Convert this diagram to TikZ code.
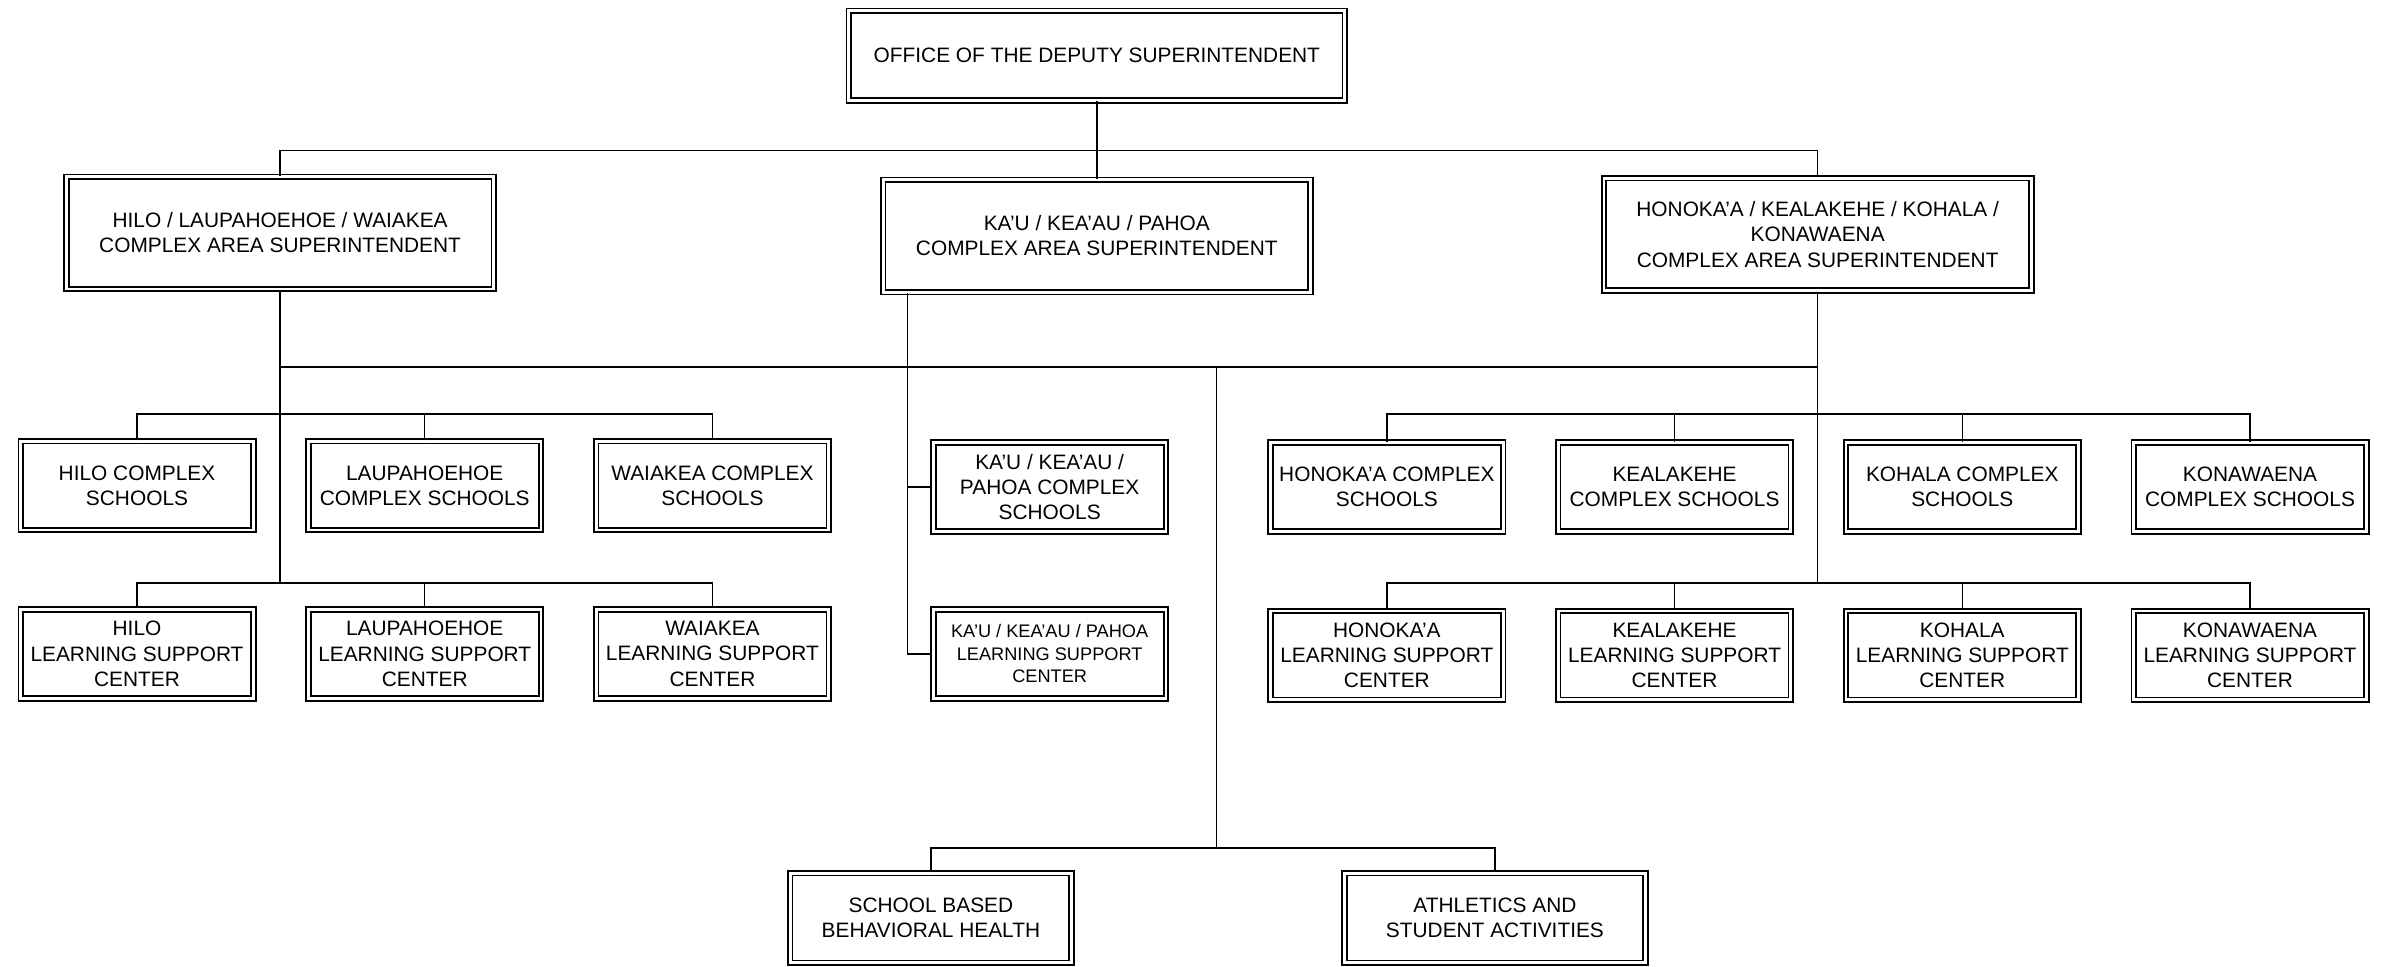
\documentclass[tikz,border=0pt]{standalone}
\usepackage{fontspec}
\setmainfont{Liberation Sans}
\usetikzlibrary{positioning}

\newcommand\orgfont{\fontsize{19.5}{23.5}\selectfont}
\newcommand\orgsmall{\fontsize{17}{21}\selectfont}

\tikzset{
  unit/.style={draw, double, line width=1.7pt, double distance=2.6pt,
    inner sep=2pt, align=center, font=\orgfont},
  topbox/.style={unit, minimum width=16.29cm, minimum height=2.94cm},
  casbox/.style={unit, minimum width=14.04cm, minimum height=3.69cm},
  smallbox/.style={unit, minimum width=7.64cm, minimum height=2.92cm},
  link/.style={line width=1.3pt}
}

\begin{document}
\begin{tikzpicture}[x=0.05cm, y=-0.05cm, line join=miter]
  \useasboundingbox (0,0) rectangle (1568,635);

  % deputy and complex area superintendents
  \node[topbox] (dep) at (720.5,36.5) {OFFICE OF THE DEPUTY SUPERINTENDENT};
  \node[casbox] (hilo) at (184,153) {HILO / LAUPAHOEHOE / WAIAKEA\\COMPLEX AREA SUPERINTENDENT};
  \node[casbox] (kau) at (720.5,155) {KA'U / KEA'AU / PAHOA\\COMPLEX AREA SUPERINTENDENT};
  \node[casbox] (hon) at (1194,154) {HONOKA'A / KEALAKEHE / KOHALA /\\KONAWAENA\\COMPLEX AREA SUPERINTENDENT};

  % complex schools
  \node[smallbox] (hilosch) at (90,319) {HILO COMPLEX\\SCHOOLS};
  \node[smallbox] (lausch) at (279,319) {LAUPAHOEHOE\\COMPLEX SCHOOLS};
  \node[smallbox] (waisch) at (468,319) {WAIAKEA COMPLEX\\SCHOOLS};
  \node[smallbox] (kausch) at (689.5,320) {KA'U / KEA'AU /\\PAHOA COMPLEX\\SCHOOLS};
  \node[smallbox] (honsch) at (911,320) {HONOKA'A COMPLEX\\SCHOOLS};
  \node[smallbox] (kealsch) at (1100,320) {KEALAKEHE\\COMPLEX SCHOOLS};
  \node[smallbox] (kohsch) at (1289,320) {KOHALA COMPLEX\\SCHOOLS};
  \node[smallbox] (konsch) at (1478,320) {KONAWAENA\\COMPLEX SCHOOLS};

  % learning support centers
  \node[smallbox] (hilolsc) at (90,429.5) {HILO\\LEARNING SUPPORT\\CENTER};
  \node[smallbox] (laulsc) at (279,429.5) {LAUPAHOEHOE\\LEARNING SUPPORT\\CENTER};
  \node[smallbox] (wailsc) at (468,429.5) {WAIAKEA\\LEARNING SUPPORT\\CENTER};
  \node[smallbox, font=\orgsmall] (kaulsc) at (689.5,429.5) {KA'U / KEA'AU / PAHOA\\LEARNING SUPPORT\\CENTER};
  \node[smallbox] (honlsc) at (911,430.5) {HONOKA'A\\LEARNING SUPPORT\\CENTER};
  \node[smallbox] (keallsc) at (1100,430.5) {KEALAKEHE\\LEARNING SUPPORT\\CENTER};
  \node[smallbox] (kohlsc) at (1289,430.5) {KOHALA\\LEARNING SUPPORT\\CENTER};
  \node[smallbox] (konlsc) at (1478,430.5) {KONAWAENA\\LEARNING SUPPORT\\CENTER};

  % bottom row
  \node[unit, minimum width=9.24cm, minimum height=2.94cm] (sbbh) at (611.5,603) {SCHOOL BASED\\BEHAVIORAL HEALTH};
  \node[unit, minimum width=9.89cm, minimum height=2.94cm] (ath) at (982,603) {ATHLETICS AND\\STUDENT ACTIVITIES};

  % bus lines
  \coordinate (topbus) at (720.5,99);
  \coordinate (midbus) at (799,241);
  \coordinate (botbus) at (799,557);
  \coordinate (schL) at (279,272);
  \coordinate (lscL) at (279,383);
  \coordinate (schR) at (1100,272);
  \coordinate (lscR) at (1100,383);
  \coordinate (kautrunk) at (596,194);

  \draw[link] (dep.south) -- (kau.north);
  \draw[link] (hilo.north) |- (topbus) -| (hon.north);
  \draw[link] (hilo.south) -- (hilo.south |- lscL);
  \draw[link] (hon.south) -- (hon.south |- lscR);
  \draw[link] (hilo.south |- midbus) -- (hon.south |- midbus);
  \draw[link] (midbus) -- (botbus);
  \draw[link] (sbbh.north) |- (botbus) -| (ath.north);

  \draw[link] (hilosch.north) |- (schL) -| (waisch.north);
  \draw[link] (lausch.north) -- (schL);
  \draw[link] (hilolsc.north) |- (lscL) -| (wailsc.north);
  \draw[link] (laulsc.north) -- (lscL);

  \draw[link] (honsch.north) |- (schR) -| (konsch.north);
  \draw[link] (kealsch.north) -- (schR);
  \draw[link] (kohsch.north) -- (kohsch.north |- schR);
  \draw[link] (honlsc.north) |- (lscR) -| (konlsc.north);
  \draw[link] (keallsc.north) -- (lscR);
  \draw[link] (kohlsc.north) -- (kohlsc.north |- lscR);

  \draw[link] (kau.south -| kautrunk) |- (kaulsc.west);
  \draw[link] (kausch.west) -- (kausch.west -| kautrunk);
\end{tikzpicture}
\end{document}
